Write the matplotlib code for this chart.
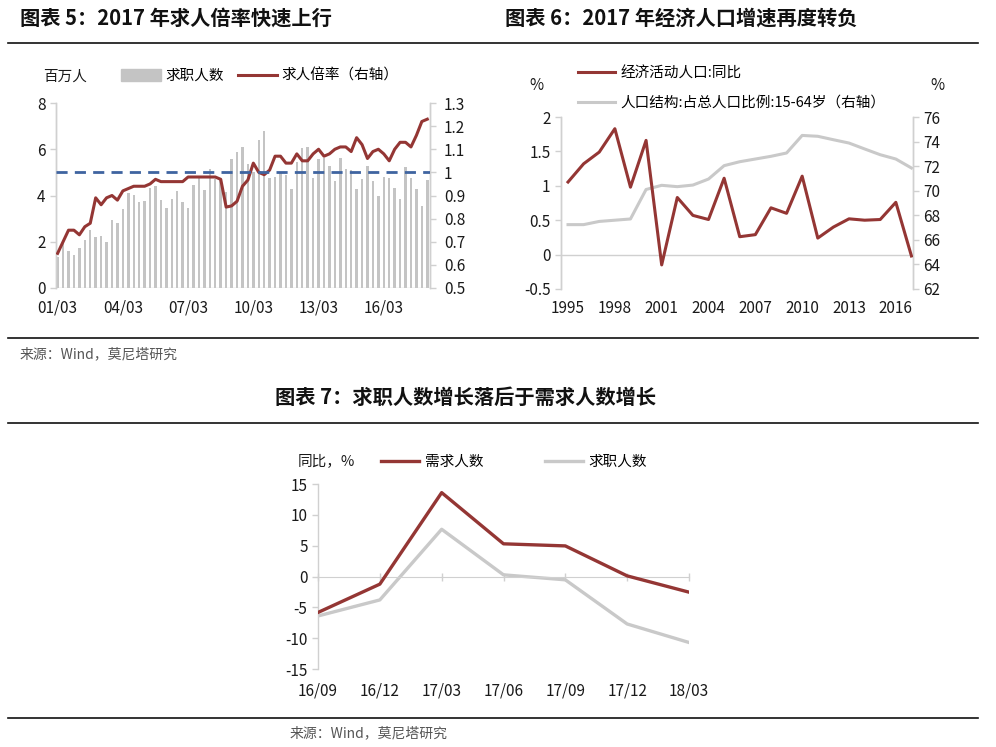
import numpy as np
import matplotlib
matplotlib.use("Agg")
import matplotlib.pyplot as plt
from matplotlib.patches import Patch
from matplotlib.lines import Line2D
from matplotlib.ticker import FuncFormatter
from matplotlib.transforms import blended_transform_factory

plt.rcParams["font.family"] = ["Noto Sans CJK SC", "DejaVu Sans"]
plt.rcParams["axes.unicode_minus"] = False

# --- chart 5: quarterly, 2001Q1 .. 2018Q1
job_seekers = [1.35, 2.0, 1.6, 1.43, 1.75, 2.07, 2.5, 2.2, 2.26, 2.0,
               2.95, 2.8, 3.4, 4.1, 4.02, 3.7, 3.76, 4.34, 4.4, 3.8,
               3.44, 3.86, 4.19, 3.73, 3.47, 4.45, 4.77, 4.22, 5.14, 4.7,
               4.7, 4.16, 5.6, 5.86, 6.1, 5.36, 5.0, 6.4, 6.79, 4.74,
               4.81, 5.0, 4.9, 4.28, 5.46, 6.04, 6.1, 4.74, 5.6, 5.63,
               5.27, 4.64, 5.63, 5.14, 5.1, 4.28, 4.71, 5.29, 4.63, 3.99,
               4.8, 4.74, 4.34, 3.85, 5.25, 4.74, 4.28, 3.54, 4.67]
job_ratio = [0.65, 0.70, 0.75, 0.75, 0.73, 0.765, 0.78, 0.89, 0.86, 0.89,
             0.90, 0.88, 0.92, 0.93, 0.94, 0.94, 0.94, 0.95, 0.97, 0.96,
             0.96, 0.96, 0.96, 0.96, 0.98, 0.98, 0.98, 0.98, 0.98, 0.98,
             0.97, 0.85, 0.855, 0.875, 0.94, 0.967, 1.04, 1.0, 0.99, 1.01,
             1.07, 1.07, 1.04, 1.04, 1.08, 1.05, 1.05, 1.08, 1.10, 1.07,
             1.08, 1.10, 1.11, 1.11, 1.09, 1.15, 1.12, 1.06, 1.09, 1.10,
             1.08, 1.05, 1.10, 1.13, 1.13, 1.11, 1.16, 1.22, 1.23]
ratio_ref = 1.0
c5_ticklabels = ["01/03", "04/03", "07/03", "10/03", "13/03", "16/03"]

# --- chart 6: annual
years = list(range(1995, 2018))
active_pop_yoy = [1.055, 1.32, 1.49, 1.83, 0.98, 1.66, -0.15, 0.83, 0.57, 0.51,
                  1.11, 0.26, 0.29, 0.68, 0.60, 1.14, 0.24, 0.40, 0.52, 0.50,
                  0.51, 0.76, -0.02]
share_15_64 = [67.24, 67.24, 67.5, 67.6, 67.7, 70.1, 70.44, 70.33, 70.46, 70.95,
               72.04, 72.36, 72.58, 72.8, 73.07, 74.5, 74.43, 74.15, 73.88, 73.4,
               72.93, 72.58, 71.85]
year_ticks = [1995, 1998, 2001, 2004, 2007, 2010, 2013, 2016]

# --- chart 7: quarterly yoy
quarters = ["16/09", "16/12", "17/03", "17/06", "17/09", "17/12", "18/03"]
demand_yoy = [-5.83, -1.24, 13.6, 5.3, 4.96, 0.1, -2.54]
seeker_yoy = [-6.4, -3.8, 7.66, 0.27, -0.54, -7.7, -10.7]

RED = "#943634"
GREY_LINE = "#C9C9C9"
GREY_BAR = "#C4C4C4"
BLUE = "#3F64A0"
AXIS = "#D0D0D0"
TXT = "#1a1a1a"

W, H = 996, 747
fig = plt.figure(figsize=(W / 100, H / 100), dpi=100)


def box(l, t, r, b):
    return [l / W, 1 - b / H, (r - l) / W, (b - t) / H]


def fx(x):
    return x / W


def fy(y):
    return 1 - y / H


def style_axis(ax):
    for s in ["top", "bottom"]:
        ax.spines[s].set_visible(False)
    for s in ["left", "right"]:
        ax.spines[s].set_color(AXIS)
        ax.spines[s].set_linewidth(1.0)
    ax.tick_params(colors=AXIS, labelcolor=TXT, labelsize=11, length=4, width=1)


# ---------------- headers / rules ----------------
title_kw = dict(fontsize=14.6, fontweight="bold", va="center", color="#111")
fig.text(fx(20), fy(18), "图表 5：2017 年求人倍率快速上行", ha="left", **title_kw)
fig.text(fx(505), fy(18), "图表 6：2017 年经济人口增速再度转负", ha="left", **title_kw)
fig.text(fx(466), fy(397), "图表 7：求职人数增长落后于需求人数增长", ha="center", **title_kw)
for y in [43, 338, 423, 718]:
    fig.add_artist(Line2D([fx(8), fx(978)], [fy(y), fy(y)], color="#111", lw=1.2))
fig.text(fx(20), fy(354), "来源：Wind，莫尼塔研究", fontsize=10, color="#555",
         ha="left", va="center")
fig.text(fx(290), fy(733), "来源：Wind，莫尼塔研究", fontsize=10, color="#555",
         ha="left", va="center")

# ---------------- chart 5 ----------------
ax5 = fig.add_axes(box(56, 103, 430, 288))
x5 = np.arange(len(job_seekers))
ax5.bar(x5, job_seekers, width=0.45, color=GREY_BAR, zorder=1)
ax5.set_ylim(0, 8)
ax5.set_yticks([0, 2, 4, 6, 8])
ax5.set_xlim(-0.3, len(job_seekers) - 0.5)
ax5.set_xticks(x5[::12])
ax5.set_xticklabels(c5_ticklabels)
style_axis(ax5)
ax5.tick_params(axis="x", length=0, pad=8)
ax5.axhline(0, color=AXIS, lw=1.0)

ax5r = ax5.twinx()
ax5r.plot(x5, job_ratio, color=RED, lw=2.2, zorder=3)
ax5r.axhline(ratio_ref, color=BLUE, lw=2.0, ls=(0, (4, 2.6)), zorder=4)
ax5r.set_ylim(0.5, 1.3)
ax5r.set_yticks(np.arange(0.5, 1.31, 0.1))
ax5r.yaxis.set_major_formatter(FuncFormatter(lambda v, p: f"{round(v, 2):g}"))
style_axis(ax5r)
ax5r.tick_params(axis="y", pad=6)

fig.text(fx(43), fy(77), "百万人", fontsize=10.5, ha="left", va="center", color=TXT)
h5 = [Patch(color=GREY_BAR), Line2D([], [], color=RED, lw=2.2)]
fig.legend(h5, ["求职人数", "求人倍率（右轴）"], ncol=2, frameon=False, fontsize=10.5,
           loc="center left", bbox_to_anchor=(fx(108), fy(76)), handlelength=2.7,
           handleheight=0.9, handletextpad=0.3, columnspacing=1.0)

# ---------------- chart 6 ----------------
ax6 = fig.add_axes(box(561, 117, 913, 289))
ax6.plot(years, active_pop_yoy, color=RED, lw=2.2, zorder=3)
ax6.axhline(0, color=AXIS, lw=1.0, zorder=1)
ax6.set_ylim(-0.5, 2)
ax6.set_yticks([-0.5, 0, 0.5, 1, 1.5, 2])
ax6.yaxis.set_major_formatter(FuncFormatter(lambda v, p: f"{v:g}"))
ax6.set_xlim(1994.55, 2017.1)
ax6.set_xticks(year_ticks)
style_axis(ax6)
ax6.tick_params(axis="x", length=0, pad=8)

ax6r = ax6.twinx()
ax6r.plot(years, share_15_64, color=GREY_LINE, lw=2.2, zorder=2)
ax6r.set_ylim(62, 76)
ax6r.set_yticks(range(62, 77, 2))
style_axis(ax6r)
ax6.set_zorder(ax6r.get_zorder() + 1)
ax6.patch.set_visible(False)

fig.text(fx(536), fy(86), "%", fontsize=11, ha="center", va="center", color=TXT)
fig.text(fx(937), fy(86), "%", fontsize=11, ha="center", va="center", color=TXT)
h6 = [Line2D([], [], color=RED, lw=2.2), Line2D([], [], color=GREY_LINE, lw=2.2)]
fig.legend(h6, ["经济活动人口:同比", "人口结构:占总人口比例:15-64岁（右轴）"], ncol=1,
           frameon=False, fontsize=10.5, loc="center left",
           bbox_to_anchor=(fx(565), fy(88)), handlelength=2.5, handletextpad=0.4,
           labelspacing=1.05)

# ---------------- chart 7 ----------------
ax7 = fig.add_axes(box(318, 484, 689, 669))
x7 = np.arange(len(quarters))
ax7.plot(x7, seeker_yoy, color=GREY_LINE, lw=2.4, zorder=2)
ax7.plot(x7, demand_yoy, color=RED, lw=2.4, zorder=3)
ax7.set_ylim(-15, 15)
ax7.set_yticks(range(-15, 16, 5))
ax7.set_xlim(0, len(quarters) - 1)
style_axis(ax7)
ax7.spines["right"].set_visible(False)
ax7.spines["bottom"].set_visible(True)
ax7.spines["bottom"].set_position(("data", 0))
ax7.spines["bottom"].set_color(AXIS)
ax7.set_xticks(x7)
ax7.tick_params(axis="x", direction="inout", length=6, labelbottom=False)
tr7 = blended_transform_factory(ax7.transData, ax7.transAxes)
for xi, lab in zip(x7, quarters):
    ax7.text(xi, -0.12, lab, transform=tr7, ha="center", va="center", fontsize=11, color=TXT)

fig.text(fx(298), fy(462), "同比，%", fontsize=10.5, ha="left", va="center", color=TXT)
h7 = [Line2D([], [], color=RED, lw=2.4), Line2D([], [], color=GREY_LINE, lw=2.4)]
fig.legend(h7, ["需求人数", "求职人数"], ncol=2, frameon=False, fontsize=10.5,
           loc="center left", bbox_to_anchor=(fx(368), fy(462)), handlelength=2.6,
           handletextpad=0.4, columnspacing=4.2)

fig.savefig("out.png", dpi=100)
